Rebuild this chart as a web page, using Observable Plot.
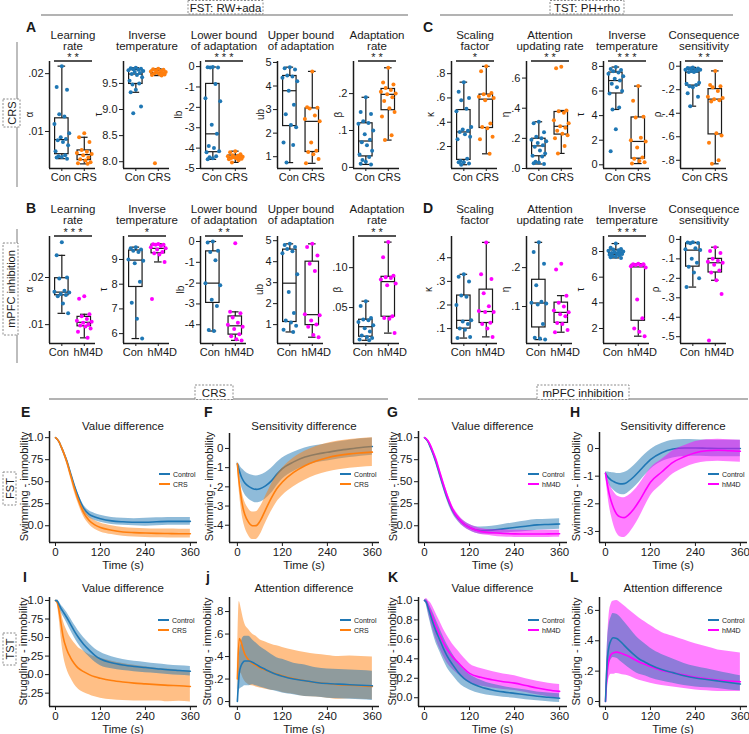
<!DOCTYPE html>
<html>
<head>
<meta charset="utf-8">
<title>Model parameters and latent dynamics</title>
<script src="https://cdn.jsdelivr.net/npm/d3@7"></script>
<script src="https://cdn.jsdelivr.net/npm/@observablehq/plot@0.6"></script>
<style>
  html, body { margin: 0; padding: 0; background: #fff; }
  #fig { position: relative; width: 749px; height: 734px; overflow: hidden; font-family: "Liberation Sans", Arial, sans-serif; }
  #fig > svg { position: absolute; }
</style>
</head>
<body>
<div id="fig"></div>
<script>
// ---------- groups & colours ----------
const crsGroups = ["Con", "CRS"];
const dreaddGroups = ["Con", "hM4D"];
const BLUE = "#1f77b4", ORANGE = "#ff7f0e", MAGENTA = "#ff00ff", INK = "#1a1a1a";
const FONT = '"Liberation Sans", Arial, sans-serif';

// ---------- A: FST, RW+ada, CRS ----------
const A_alpha_con = [0.0213, 0.0177, 0.0172, 0.0130, 0.0126, 0.0113, 0.0097, 0.0090, 0.0087, 0.0085, 0.0082, 0.0076, 0.0066, 0.0059, 0.0057, 0.0056, 0.0055, 0.0053];
const A_alpha_crs = [0.0097, 0.0090, 0.0082, 0.0068, 0.0065, 0.0063, 0.0061, 0.0059, 0.0055, 0.0052, 0.0050, 0.0047, 0.0045, 0.0044];
const A_tau_con = [9.80, 9.79, 9.78, 9.77, 9.76, 9.75, 9.74, 9.72, 9.70, 9.68, 9.66, 9.62, 9.55, 9.50, 9.48, 9.38, 9.33, 9.06, 8.93];
const A_tau_crs = [9.78, 9.77, 9.76, 9.75, 9.74, 9.73, 9.72, 9.71, 9.70, 9.69, 9.68, 9.67, 9.66, 9.65, 7.97];
const A_lb_con = [-0.02, -0.03, -0.04, -0.05, -0.85, -1.55, -1.7, -2.85, -3.3, -3.9, -4.0, -4.15, -4.2, -4.4, -4.45, -4.5, -4.55];
const A_lb_crs = [-4.15, -4.2, -4.3, -4.35, -4.38, -4.4, -4.42, -4.45, -4.46, -4.48, -4.5, -4.52, -4.55, -4.6, -4.7];
const A_ub_con = [4.8, 4.75, 4.7, 4.45, 4.4, 4.35, 4.2, 3.8, 3.2, 2.8, 2.35, 2.25, 1.6, 1.5, 0.75];
const A_ub_crs = [4.62, 3.1, 3.08, 3.05, 2.75, 2.6, 2.5, 1.6, 1.25, 1.2, 1.1, 0.9, 0.72];
const A_beta_con = [0.19, 0.15, 0.145, 0.125, 0.12, 0.118, 0.1, 0.09, 0.075, 0.068, 0.06, 0.045, 0.035, 0.028, 0.02, 0.015, 0.01, 0.008];
const A_beta_crs = [0.27, 0.23, 0.225, 0.215, 0.21, 0.205, 0.2, 0.198, 0.19, 0.18, 0.16, 0.15, 0.138, 0.087, 0.074];

// ---------- C: TST, PH+rho, CRS ----------
const C_kappa_con = [0.73, 0.65, 0.6, 0.58, 0.51, 0.49, 0.36, 0.34, 0.33, 0.32, 0.3, 0.28, 0.26, 0.1, 0.08, 0.07, 0.07, 0.06, 0.05];
const C_kappa_crs = [0.86, 0.82, 0.64, 0.63, 0.62, 0.61, 0.6, 0.58, 0.39, 0.36, 0.35, 0.28, 0.26, 0.14];
const C_eta_con = [0.31, 0.3, 0.24, 0.21, 0.2, 0.19, 0.18, 0.17, 0.155, 0.145, 0.12, 0.1, 0.085, 0.08, 0.045, 0.04, 0.035, 0.03];
const C_eta_crs = [0.675, 0.665, 0.385, 0.38, 0.37, 0.32, 0.3, 0.28, 0.27, 0.25, 0.23, 0.22, 0.2, 0.15, 0.1];
const C_tau_con = [7.95, 7.8, 7.7, 7.6, 7.5, 7.4, 7.2, 7.0, 6.85, 6.6, 6.3, 6.0, 5.8, 4.65, 4.5, 2.9, 1.1];
const C_tau_crs = [6.4, 5.2, 3.9, 3.85, 2.2, 2.0, 1.9, 1.4, 0.6, 0.5, 0.3, 0.2, 0.1];
const C_rho_con = [-0.01, -0.015, -0.02, -0.02, -0.03, -0.03, -0.03, -0.04, -0.04, -0.05, -0.05, -0.14, -0.15, -0.16, -0.17, -0.18, -0.23, -0.26, -0.34];
const C_rho_crs = [-0.04, -0.16, -0.17, -0.18, -0.21, -0.26, -0.27, -0.28, -0.29, -0.3, -0.57, -0.59, -0.65, -0.8, -0.83];

// ---------- B: FST, RW+ada, mPFC inhibition ----------
const B_alpha_con = [0.0275, 0.0247, 0.0200, 0.0198, 0.0172, 0.0170, 0.0168, 0.0165, 0.0163, 0.0160, 0.0145, 0.0124];
const B_alpha_hm4d = [0.0160, 0.0155, 0.0122, 0.0118, 0.0112, 0.0108, 0.0106, 0.0104, 0.0101, 0.0098, 0.0096, 0.0092, 0.0085, 0.0072];
const B_tau_con = [9.5, 9.45, 9.4, 9.35, 9.3, 9.0, 8.95, 8.85, 8.1, 7.25, 6.6, 5.8];
const B_tau_hm4d = [9.63, 9.62, 9.6, 9.6, 9.55, 9.5, 9.45, 9.4, 9.3, 9.25, 9.2, 8.9, 7.4];
const B_lb_con = [0, -0.05, -0.45, -0.5, -0.9, -2.0, -2.1, -2.8, -3.1, -4.25, -4.3];
const B_lb_hm4d = [-0.08, -3.38, -3.45, -3.65, -3.9, -4.0, -4.1, -4.2, -4.45, -4.55, -4.7, -4.75];
const B_ub_con = [4.85, 4.8, 4.7, 4.6, 4.5, 4.4, 3.4, 2.55, 1.55, 1.2, 1.1, 0.95, 0.75, 0.65];
const B_ub_hm4d = [4.85, 4.7, 4.3, 3.9, 3.55, 1.5, 1.45, 1.2, 1.0, 0.9, 0.5, 0.4];
const B_beta_con = [0.058, 0.052, 0.037, 0.035, 0.034, 0.032, 0.028, 0.024, 0.02, 0.015, 0.013, 0.012, 0.01, 0.009];
const B_beta_hm4d = [0.132, 0.113, 0.09, 0.088, 0.087, 0.085, 0.08, 0.078, 0.039, 0.037, 0.036, 0.018];

// ---------- D: TST, PH+rho, mPFC inhibition ----------
const D_kappa_con = [0.33, 0.32, 0.3, 0.24, 0.235, 0.2, 0.135, 0.13, 0.12, 0.1, 0.095, 0.065, 0.06];
const D_kappa_hm4d = [0.465, 0.33, 0.31, 0.25, 0.195, 0.175, 0.17, 0.17, 0.125, 0.12, 0.1, 0.065];
const D_eta_con = [0.265, 0.24, 0.21, 0.155, 0.112, 0.11, 0.108, 0.105, 0.055, 0.02, 0.018, 0.015];
const D_eta_hm4d = [0.21, 0.195, 0.128, 0.11, 0.1, 0.09, 0.085, 0.08, 0.075, 0.058, 0.055, 0.04, 0.034];
const D_tau_con = [8.62, 8.3, 8.2, 8.15, 8.1, 8.05, 8.0, 7.95, 7.9, 7.88, 7.85, 7.8, 7.75, 7.7, 7.65, 7.6, 7.55, 7.5];
const D_tau_hm4d = [7.05, 7.0, 7.0, 6.95, 6.9, 6.85, 6.75, 4.25, 2.8, 2.0, 1.75, 1.4];
const D_rho_con = [-0.015, -0.016, -0.018, -0.02, -0.045, -0.05, -0.055, -0.1, -0.12, -0.14, -0.17, -0.2, -0.245];
const D_rho_hm4d = [-0.04, -0.06, -0.07, -0.1, -0.11, -0.115, -0.12, -0.13, -0.16, -0.17, -0.21, -0.28, -0.52];

// ---------- axis ticks for the parameter panels ----------
const ticksSmallRate = [0.01, 0.02], labelsSmallRate = [".01", ".02"];
const ticksTauA = [8, 8.5, 9, 9.5], labelsTauA = ["8.0", "8.5", "9.0", "9.5"];
const ticksLbA = [-5, -4, -3, -2, -1, 0], labelsLbA = ["-5", "-4", "-3", "-2", "-1", "0"];
const ticksUb = [1, 2, 3, 4, 5], labelsUb = ["1", "2", "3", "4", "5"];
const ticksBetaA = [0, 0.1, 0.2], labelsBetaA = ["0", ".1", ".2"];
const ticksKappaC = [0.2, 0.4, 0.6, 0.8], labelsKappaC = [".2", ".4", ".6", ".8"];
const ticksEtaC = [0, 0.2, 0.4, 0.6], labelsEtaC = [".0", ".2", ".4", ".6"];
const ticksTauC = [0, 2, 4, 6, 8], labelsTauC = ["0", "2", "4", "6", "8"];
const ticksRhoC = [-0.8, -0.6, -0.4, -0.2, 0], labelsRhoC = ["-.8", "-.6", "-.4", "-.2", "0"];
const ticksTauB = [6, 7, 8, 9], labelsTauB = ["6", "7", "8", "9"];
const ticksLbB = [-4, -3, -2, -1, 0], labelsLbB = ["-4", "-3", "-2", "-1", "0"];
const ticksBetaB = [0.05, 0.1], labelsBetaB = [".05", ".10"];
const ticksKappaD = [0.1, 0.2, 0.3, 0.4], labelsKappaD = [".1", ".2", ".3", ".4"];
const ticksEtaD = [0.1, 0.2], labelsEtaD = [".1", ".2"];
const ticksTauD = [2, 4, 6, 8], labelsTauD = ["2", "4", "6", "8"];
const ticksRhoD = [-0.5, -0.4, -0.3, -0.2, -0.1, 0], labelsRhoD = ["-.5", "-.4", "-.3", "-.2", "-.1", "0"];

// ---------- E–L: group-mean trajectories (mean, band half-width) ----------
const timeGrid = [0, 5, 10, 15, 20, 30, 40, 50, 60, 75, 90, 105, 120, 150, 180, 210, 240, 270, 300, 330, 360];

const E_ctrl_mean = [1.0, 0.98, 0.95, 0.9, 0.85, 0.74, 0.6, 0.46, 0.34, 0.2, 0.13, 0.1, 0.08, 0.055, 0.045, 0.04, 0.04, 0.045, 0.05, 0.05, 0.05];
const E_ctrl_half = [0, 0.01, 0.015, 0.02, 0.02, 0.025, 0.03, 0.03, 0.035, 0.035, 0.04, 0.04, 0.04, 0.04, 0.04, 0.04, 0.045, 0.045, 0.045, 0.045, 0.045];
const E_crs_mean = [1.0, 0.98, 0.95, 0.9, 0.85, 0.73, 0.58, 0.43, 0.3, 0.15, 0.06, 0.01, -0.02, -0.05, -0.07, -0.078, -0.083, -0.086, -0.088, -0.09, -0.09];
const E_crs_half = [0, 0.01, 0.015, 0.02, 0.025, 0.03, 0.035, 0.04, 0.04, 0.045, 0.045, 0.05, 0.05, 0.05, 0.05, 0.05, 0.05, 0.05, 0.05, 0.05, 0.05];

const F_ctrl_mean = [-0.8, -1.15, -1.45, -1.65, -1.8, -1.98, -2.08, -2.13, -2.1, -1.95, -1.7, -1.35, -1.05, -0.7, -0.45, -0.3, -0.2, -0.1, -0.02, 0.05, 0.1];
const F_ctrl_half = [0.1, 0.3, 0.45, 0.55, 0.6, 0.65, 0.68, 0.7, 0.7, 0.68, 0.65, 0.6, 0.55, 0.5, 0.48, 0.45, 0.45, 0.45, 0.45, 0.45, 0.45];
const F_crs_mean = [-0.8, -1.8, -2.55, -3.1, -3.45, -3.85, -4.03, -4.02, -3.8, -3.2, -2.6, -2.1, -1.75, -1.25, -0.9, -0.65, -0.48, -0.36, -0.28, -0.23, -0.19];
const F_crs_half = [0.15, 0.4, 0.55, 0.62, 0.66, 0.7, 0.72, 0.72, 0.72, 0.7, 0.7, 0.7, 0.72, 0.75, 0.75, 0.75, 0.75, 0.75, 0.75, 0.75, 0.75];

const G_ctrl_mean = [1.0, 0.98, 0.95, 0.9, 0.85, 0.73, 0.59, 0.45, 0.32, 0.17, 0.08, 0.02, -0.02, -0.055, -0.05, -0.035, -0.02, -0.005, 0.01, 0.015, 0.02];
const G_ctrl_half = [0, 0.01, 0.015, 0.02, 0.02, 0.025, 0.03, 0.03, 0.03, 0.035, 0.035, 0.035, 0.035, 0.04, 0.045, 0.05, 0.055, 0.06, 0.06, 0.06, 0.06];
const G_hm4d_mean = [1.0, 0.985, 0.96, 0.92, 0.87, 0.76, 0.62, 0.48, 0.35, 0.19, 0.09, 0.02, -0.02, -0.065, -0.08, -0.088, -0.092, -0.094, -0.094, -0.092, -0.09];
const G_hm4d_half = [0, 0.01, 0.015, 0.02, 0.025, 0.03, 0.03, 0.035, 0.035, 0.035, 0.035, 0.035, 0.035, 0.035, 0.035, 0.04, 0.04, 0.04, 0.04, 0.04, 0.04];

const H_ctrl_mean = [-0.9, -1.0, -1.08, -1.14, -1.18, -1.25, -1.28, -1.27, -1.2, -1.03, -0.82, -0.6, -0.4, -0.15, -0.02, 0.02, 0.02, 0.01, 0.0, 0.0, 0.0];
const H_ctrl_half = [0.05, 0.15, 0.22, 0.27, 0.3, 0.35, 0.38, 0.4, 0.4, 0.4, 0.4, 0.38, 0.36, 0.33, 0.32, 0.31, 0.3, 0.3, 0.3, 0.3, 0.3];
const H_hm4d_mean = [-0.9, -1.3, -1.65, -1.9, -2.1, -2.38, -2.48, -2.5, -2.42, -2.2, -1.9, -1.55, -1.22, -0.85, -0.5, -0.3, -0.15, -0.08, -0.06, -0.08, -0.1];
const H_hm4d_half = [0.05, 0.25, 0.4, 0.5, 0.58, 0.68, 0.72, 0.72, 0.7, 0.65, 0.6, 0.55, 0.5, 0.45, 0.42, 0.4, 0.4, 0.4, 0.4, 0.4, 0.4];

const I_ctrl_mean = [1.0, 0.99, 0.94, 0.89, 0.85, 0.77, 0.68, 0.59, 0.51, 0.41, 0.33, 0.26, 0.21, 0.16, 0.13, 0.11, 0.095, 0.08, 0.065, 0.055, 0.045];
const I_ctrl_half = [0, 0.02, 0.04, 0.05, 0.06, 0.07, 0.08, 0.085, 0.09, 0.09, 0.09, 0.09, 0.09, 0.08, 0.075, 0.07, 0.07, 0.065, 0.065, 0.065, 0.065];
const I_crs_mean = [1.0, 0.97, 0.85, 0.68, 0.52, 0.34, 0.23, 0.15, 0.09, 0.04, 0.0, -0.03, -0.05, -0.08, -0.1, -0.115, -0.125, -0.135, -0.145, -0.15, -0.16];
const I_crs_half = [0, 0.03, 0.1, 0.18, 0.22, 0.26, 0.27, 0.28, 0.28, 0.28, 0.27, 0.27, 0.27, 0.26, 0.25, 0.24, 0.23, 0.22, 0.22, 0.21, 0.21];

const J_ctrl_mean = [0, 0.25, 0.32, 0.35, 0.36, 0.36, 0.35, 0.33, 0.31, 0.285, 0.26, 0.24, 0.225, 0.2, 0.185, 0.17, 0.16, 0.155, 0.15, 0.145, 0.14];
const J_ctrl_half = [0, 0.15, 0.2, 0.22, 0.22, 0.22, 0.2, 0.19, 0.18, 0.17, 0.16, 0.15, 0.15, 0.14, 0.14, 0.13, 0.13, 0.13, 0.13, 0.13, 0.13];
const J_crs_mean = [0.2, 0.56, 0.53, 0.47, 0.42, 0.37, 0.34, 0.32, 0.3, 0.28, 0.26, 0.245, 0.23, 0.205, 0.185, 0.17, 0.16, 0.15, 0.145, 0.14, 0.135];
const J_crs_up = [0.1, 0.33, 0.3, 0.28, 0.27, 0.27, 0.26, 0.26, 0.25, 0.25, 0.25, 0.25, 0.25, 0.25, 0.25, 0.25, 0.25, 0.25, 0.26, 0.26, 0.26];
const J_crs_down = [0.1, 0.3, 0.28, 0.26, 0.24, 0.22, 0.2, 0.19, 0.18, 0.17, 0.16, 0.15, 0.15, 0.14, 0.14, 0.13, 0.13, 0.13, 0.12, 0.12, 0.12];

const K_ctrl_mean = [1.0, 0.98, 0.92, 0.86, 0.8, 0.69, 0.6, 0.51, 0.43, 0.34, 0.26, 0.2, 0.16, 0.11, 0.08, 0.06, 0.045, 0.03, 0.015, 0.005, -0.005];
const K_ctrl_half = [0, 0.03, 0.06, 0.08, 0.1, 0.12, 0.12, 0.12, 0.12, 0.11, 0.1, 0.09, 0.08, 0.07, 0.06, 0.055, 0.05, 0.05, 0.045, 0.045, 0.045];
const K_hm4d_mean = [1.0, 0.99, 0.94, 0.89, 0.84, 0.74, 0.65, 0.57, 0.5, 0.42, 0.36, 0.3, 0.25, 0.21, 0.185, 0.165, 0.15, 0.125, 0.1, 0.08, 0.065];
const K_hm4d_half = [0, 0.03, 0.06, 0.09, 0.11, 0.13, 0.14, 0.14, 0.14, 0.13, 0.12, 0.11, 0.1, 0.09, 0.085, 0.08, 0.075, 0.07, 0.07, 0.07, 0.07];

const L_ctrl_mean = [0, 0.28, 0.37, 0.405, 0.42, 0.415, 0.395, 0.37, 0.345, 0.31, 0.28, 0.26, 0.24, 0.21, 0.19, 0.17, 0.155, 0.145, 0.135, 0.125, 0.115];
const L_ctrl_up = [0, 0.1, 0.14, 0.15, 0.16, 0.16, 0.16, 0.155, 0.15, 0.14, 0.13, 0.12, 0.11, 0.1, 0.09, 0.08, 0.075, 0.07, 0.065, 0.06, 0.055];
const L_ctrl_down = [0, 0.1, 0.12, 0.13, 0.13, 0.13, 0.13, 0.125, 0.12, 0.11, 0.1, 0.09, 0.085, 0.075, 0.07, 0.065, 0.06, 0.055, 0.05, 0.05, 0.045];
const L_hm4d_mean = [0, 0.2, 0.28, 0.31, 0.32, 0.325, 0.32, 0.31, 0.3, 0.28, 0.26, 0.245, 0.23, 0.205, 0.19, 0.175, 0.16, 0.15, 0.14, 0.135, 0.13];
const L_hm4d_up = [0, 0.18, 0.3, 0.33, 0.34, 0.34, 0.33, 0.32, 0.31, 0.3, 0.29, 0.28, 0.27, 0.25, 0.24, 0.23, 0.22, 0.21, 0.2, 0.195, 0.19];
const L_hm4d_down = [0, 0.1, 0.12, 0.13, 0.14, 0.14, 0.14, 0.135, 0.13, 0.125, 0.12, 0.115, 0.11, 0.1, 0.095, 0.09, 0.085, 0.08, 0.075, 0.07, 0.065];

// ---------- tick sets for the trajectory panels ----------
const ticksValueFST = [0, 0.25, 0.5, 0.75, 1], labelsValueFST = ["0.0", ".25", ".50", ".75", "1.0"];
const ticksSensCRS = [-4, -3, -2, -1, 0], labelsSensCRS = ["-4", "-3", "-2", "-1", "0"];
const ticksSensDREADD = [-3, -2, -1, 0], labelsSensDREADD = ["-3", "-2", "-1", "0"];
const ticksValueCRS_TST = [-0.25, 0, 0.25, 0.5, 0.75, 1], labelsValueCRS_TST = [".25", "0.0", ".25", ".50", ".75", "1.0"];
const ticksAttnCRS = [0, 0.2, 0.4, 0.6, 0.8], labelsAttnCRS = ["0", ".2", ".4", ".6", ".8"];
const ticksValueDREADD_TST = [0, 0.2, 0.4, 0.6, 0.8, 1], labelsValueDREADD_TST = ["0.0", "0.2", "0.4", "0.6", "0.8", "1.0"];
const ticksAttnDREADD = [0, 0.2, 0.4, 0.6], labelsAttnDREADD = ["0", ".2", ".4", ".6"];
const timeTicks = [0, 120, 240, 360];

// ====================================================================
const fig = document.getElementById("fig");
function place(svg, left, top) {
  svg.style.left = left + "px";
  svg.style.top = top + "px";
  fig.appendChild(svg);
}

// ---------- box-and-strip panels ----------
const BOX_X = [0.45, 2.5];
const JITTER = [0, -0.7, 0.7, -0.35, 0.35, -1, 1, -0.15, 0.55, -0.55, 0.15, 0.85, -0.85, 0.45, -0.45];

function boxStats(values) {
  const s = d3.sort(values);
  const q1 = d3.quantileSorted(s, 0.25), med = d3.quantileSorted(s, 0.5), q3 = d3.quantileSorted(s, 0.75);
  const reach = 1.5 * (q3 - q1) + 1e-9;
  return {
    q1, med, q3,
    lo: d3.min(s, d => (d >= q1 - reach ? d : NaN)),
    hi: d3.max(s, d => (d <= q3 + reach ? d : NaN))
  };
}

function drawBox(p) {
  const ml = 34, mr = 8, mt = 6, mb = 22, pw = 46, ph = p.bottom - p.top;
  const stats = [p.con, p.trt].map((v, i) => ({g: i + 1, ...boxStats(v)}));
  const pts = (v, g) => v.map((y, i) => ({x: g + 0.33 * JITTER[i % JITTER.length], y}));
  const tickLabel = new Map(p.ticks.map((t, i) => [t, p.labels[i]]));
  const ink = {stroke: INK, strokeWidth: 1.2};
  // group names sit under their ticks, nudged apart so longer names do not touch
  const spread = p.groups[1].length > 3 ? [-3, 4] : [-1, 1];
  const groupLabel = (g, dx) => Plot.text([p.groups[g - 1]], {x: () => g, text: d => d, frameAnchor: "bottom", dy: 12.5, dx, fill: INK});
  const svg = Plot.plot({
    width: ml + pw + mr, height: mt + ph + mb,
    marginLeft: ml, marginRight: mr, marginTop: mt, marginBottom: mb,
    style: {background: "transparent", fontSize: "11px", fontFamily: FONT, color: INK, overflow: "visible"},
    x: {domain: BOX_X, ticks: [1, 2], tickFormat: () => "", tickSize: 3, label: null},
    y: {domain: p.domain, ticks: p.ticks, tickFormat: d => tickLabel.get(d), tickSize: 4, tickPadding: 2, label: null},
    marks: [
      Plot.ruleX(stats, {x: "g", y1: "q3", y2: "hi", ...ink}),
      Plot.ruleX(stats, {x: "g", y1: "lo", y2: "q1", ...ink}),
      Plot.ruleY(stats, {y: "hi", x1: d => d.g - 0.17, x2: d => d.g + 0.17, ...ink}),
      Plot.ruleY(stats, {y: "lo", x1: d => d.g - 0.17, x2: d => d.g + 0.17, ...ink}),
      Plot.rect(stats, {x1: d => d.g - 0.3, x2: d => d.g + 0.3, y1: "q1", y2: "q3", fill: "white", ...ink}),
      Plot.ruleY(stats, {y: "med", x1: d => d.g - 0.3, x2: d => d.g + 0.3, ...ink}),
      Plot.dot(pts(p.con, 1), {x: "x", y: "y", r: 2, fill: p.colors[0]}),
      Plot.dot(pts(p.trt, 2), {x: "x", y: "y", r: 2, fill: p.colors[1]}),
      Plot.ruleX([BOX_X[0]], {stroke: INK, strokeWidth: 1.5}),
      Plot.ruleY([p.domain[0]], {stroke: INK, strokeWidth: 1.5}),
      groupLabel(1, spread[0]),
      groupLabel(2, spread[1])
    ]
  });
  place(svg, p.axisX - ml, p.top - mt);
}

const rowA = {top: 61, bottom: 168}, rowB = {top: 236, bottom: 343};
const boxPanels = [
  {...rowA, axisX: 49,  groups: crsGroups, colors: [BLUE, ORANGE], con: A_alpha_con, trt: A_alpha_crs, domain: [0.0036, 0.0221], ticks: ticksSmallRate, labels: labelsSmallRate, title: ["Learning", "rate"], sym: "α", symOff: 20, stars: "**"},
  {...rowA, axisX: 123, groups: crsGroups, colors: [BLUE, ORANGE], con: A_tau_con, trt: A_tau_crs, domain: [7.87, 9.92], ticks: ticksTauA, labels: labelsTauA, title: ["Inverse", "temperature"], sym: "τ", symOff: 25, stars: ""},
  {...rowA, axisX: 200, groups: crsGroups, colors: [BLUE, ORANGE], con: A_lb_con, trt: A_lb_crs, domain: [-5, 0.25], ticks: ticksLbA, labels: labelsLbA, title: ["Lower bound", "of adaptation"], sym: "lb", symOff: 22, stars: "***"},
  {...rowA, axisX: 277, groups: crsGroups, colors: [BLUE, ORANGE], con: A_ub_con, trt: A_ub_crs, domain: [0.5, 5.04], ticks: ticksUb, labels: labelsUb, title: ["Upper bound", "of adaptation"], sym: "ub", symOff: 17, stars: ""},
  {...rowA, axisX: 353, groups: crsGroups, colors: [BLUE, ORANGE], con: A_beta_con, trt: A_beta_crs, domain: [-0.003, 0.287], ticks: ticksBetaA, labels: labelsBetaA, title: ["Adaptation", "rate"], sym: "β", symOff: 15, stars: "**"},
  {...rowA, axisX: 451, groups: crsGroups, colors: [BLUE, ORANGE], con: C_kappa_con, trt: C_kappa_crs, domain: [0.019, 0.9], ticks: ticksKappaC, labels: labelsKappaC, title: ["Scaling", "factor"], sym: "κ", symOff: 21, stars: "*"},
  {...rowA, axisX: 526, groups: crsGroups, colors: [BLUE, ORANGE], con: C_eta_con, trt: C_eta_crs, domain: [0, 0.71], ticks: ticksEtaC, labels: labelsEtaC, title: ["Attention", "updating rate"], sym: "η", symOff: 21, stars: "**"},
  {...rowA, axisX: 603, groups: crsGroups, colors: [BLUE, ORANGE], con: C_tau_con, trt: C_tau_crs, domain: [-0.3, 8.4], ticks: ticksTauC, labels: labelsTauC, title: ["Inverse", "temperature"], sym: "τ", symOff: 23, stars: "***"},
  {...rowA, axisX: 680, groups: crsGroups, colors: [BLUE, ORANGE], con: C_rho_con, trt: C_rho_crs, domain: [-0.87, 0.04], ticks: ticksRhoC, labels: labelsRhoC, title: ["Consequence", "sensitivity"], sym: "ρ", symOff: 23, stars: "**"},
  {...rowB, axisX: 49,  groups: dreaddGroups, colors: [BLUE, MAGENTA], con: B_alpha_con, trt: B_alpha_hm4d, domain: [0.006, 0.0287], ticks: ticksSmallRate, labels: labelsSmallRate, title: ["Learning", "rate"], sym: "α", symOff: 20, stars: "***"},
  {...rowB, axisX: 123, groups: dreaddGroups, colors: [BLUE, MAGENTA], con: B_tau_con, trt: B_tau_hm4d, domain: [5.6, 9.93], ticks: ticksTauB, labels: labelsTauB, title: ["Inverse", "temperature"], sym: "τ", symOff: 20, stars: "*"},
  {...rowB, axisX: 200, groups: dreaddGroups, colors: [BLUE, MAGENTA], con: B_lb_con, trt: B_lb_hm4d, domain: [-4.9, 0.24], ticks: ticksLbB, labels: labelsLbB, title: ["Lower bound", "of adaptation"], sym: "lb", symOff: 20, stars: "**"},
  {...rowB, axisX: 277, groups: dreaddGroups, colors: [BLUE, MAGENTA], con: B_ub_con, trt: B_ub_hm4d, domain: [0.1, 5.2], ticks: ticksUb, labels: labelsUb, title: ["Upper bound", "of adaptation"], sym: "ub", symOff: 18, stars: ""},
  {...rowB, axisX: 353, groups: dreaddGroups, colors: [BLUE, MAGENTA], con: B_beta_con, trt: B_beta_hm4d, domain: [0.005, 0.139], ticks: ticksBetaB, labels: labelsBetaB, title: ["Adaptation", "rate"], sym: "β", symOff: 16, stars: "**"},
  {...rowB, axisX: 451, groups: dreaddGroups, colors: [BLUE, MAGENTA], con: D_kappa_con, trt: D_kappa_hm4d, domain: [0.037, 0.49], ticks: ticksKappaD, labels: labelsKappaD, title: ["Scaling", "factor"], sym: "κ", symOff: 23, stars: ""},
  {...rowB, axisX: 526, groups: dreaddGroups, colors: [BLUE, MAGENTA], con: D_eta_con, trt: D_eta_hm4d, domain: [0.005, 0.28], ticks: ticksEtaD, labels: labelsEtaD, title: ["Attention", "updating rate"], sym: "η", symOff: 21, stars: ""},
  {...rowB, axisX: 603, groups: dreaddGroups, colors: [BLUE, MAGENTA], con: D_tau_con, trt: D_tau_hm4d, domain: [0.83, 9.17], ticks: ticksTauD, labels: labelsTauD, title: ["Inverse", "temperature"], sym: "τ", symOff: 23, stars: "***"},
  {...rowB, axisX: 680, groups: dreaddGroups, colors: [BLUE, MAGENTA], con: D_rho_con, trt: D_rho_hm4d, domain: [-0.535, 0.015], ticks: ticksRhoD, labels: labelsRhoD, title: ["Consequence", "sensitivity"], sym: "ρ", symOff: 25, stars: ""}
];
boxPanels.forEach(drawBox);

// ---------- trajectory panels ----------
function drawTrajectory(p) {
  const ml = 40, mr = 2, mt = 4, mb = 30, pw = p.right - p.axisX, ph = p.bottom - p.top;
  const tickLabel = new Map(p.yTicks.map((t, i) => [t, p.yLabels[i]]));
  const tracks = p.series.map(s => ({
    color: s.color,
    rows: timeGrid.map((t, i) => ({t, m: s.mean[i], lo: s.mean[i] - (s.down || s.up)[i], hi: s.mean[i] + s.up[i]}))
  }));
  const band = s => Plot.areaY(s.rows, {x: "t", y1: "lo", y2: "hi", fill: s.color, fillOpacity: 0.5, curve: "monotone-x"});
  const line = s => Plot.line(s.rows, {x: "t", y: "m", stroke: s.color, strokeWidth: 1.6, curve: "monotone-x"});
  const layers = p.interleave
    ? tracks.flatMap(s => [band(s), line(s)])
    : [...tracks.map(band), ...tracks.map(line)];
  const svg = Plot.plot({
    width: ml + pw + mr, height: mt + ph + mb,
    marginLeft: ml, marginRight: mr, marginTop: mt, marginBottom: mb,
    style: {background: "transparent", fontSize: "11.5px", fontFamily: FONT, color: INK, overflow: "visible"},
    x: {domain: p.xDomain, ticks: timeTicks, tickSize: 4, tickPadding: 1, label: null},
    y: {domain: p.yDomain, ticks: p.yTicks, tickFormat: d => tickLabel.get(d), tickSize: 4, tickPadding: 2, label: null},
    marks: [
      ...layers,
      Plot.ruleX([p.xDomain[0]], {stroke: INK, strokeWidth: 1.5}),
      Plot.ruleY([p.yDomain[0]], {stroke: INK, strokeWidth: 1.5})
    ]
  });
  place(svg, p.axisX - ml, p.top - mt);
}

const rowE = {top: 431, bottom: 542}, rowI = {top: 597, bottom: 706};
const trajPanels = [
  {...rowE, axisX: 49, right: 197, xDomain: [-16, 379], yDomain: [-0.19, 1.07], yTicks: ticksValueFST, yLabels: labelsValueFST, interleave: true,
   series: [{mean: E_ctrl_mean, up: E_ctrl_half, color: BLUE}, {mean: E_crs_mean, up: E_crs_half, color: ORANGE}]},
  {...rowE, top: 433, axisX: 229, right: 379, xDomain: [-21, 379], yDomain: [-4.9, 0.78], yTicks: ticksSensCRS, yLabels: labelsSensCRS, interleave: true,
   series: [{mean: F_ctrl_mean, up: F_ctrl_half, color: BLUE}, {mean: F_crs_mean, up: F_crs_half, color: ORANGE}]},
  {...rowE, axisX: 418, right: 567, xDomain: [-16, 381], yDomain: [-0.19, 1.07], yTicks: ticksValueFST, yLabels: labelsValueFST, interleave: true,
   series: [{mean: G_ctrl_mean, up: G_ctrl_half, color: BLUE}, {mean: G_hm4d_mean, up: G_hm4d_half, color: MAGENTA}]},
  {...rowE, top: 432, axisX: 599, right: 747, xDomain: [-16, 379], yDomain: [-3.4, 0.58], yTicks: ticksSensDREADD, yLabels: labelsSensDREADD, interleave: true,
   series: [{mean: H_ctrl_mean, up: H_ctrl_half, color: BLUE}, {mean: H_hm4d_mean, up: H_hm4d_half, color: MAGENTA}]},
  {...rowI, axisX: 49, right: 197, xDomain: [-16, 379], yDomain: [-0.43, 1.04], yTicks: ticksValueCRS_TST, yLabels: labelsValueCRS_TST, interleave: false,
   series: [{mean: I_crs_mean, up: I_crs_half, color: ORANGE}, {mean: I_ctrl_mean, up: I_ctrl_half, color: BLUE}]},
  {...rowI, axisX: 229, right: 379, xDomain: [-21, 379], yDomain: [-0.044, 0.925], yTicks: ticksAttnCRS, yLabels: labelsAttnCRS, interleave: false,
   series: [{mean: J_crs_mean, up: J_crs_up, down: J_crs_down, color: ORANGE}, {mean: J_ctrl_mean, up: J_ctrl_half, color: BLUE}]},
  {...rowI, axisX: 418, right: 567, xDomain: [-16, 381], yDomain: [-0.09, 1.03], yTicks: ticksValueDREADD_TST, yLabels: labelsValueDREADD_TST, interleave: false,
   series: [{mean: K_hm4d_mean, up: K_hm4d_half, color: MAGENTA}, {mean: K_ctrl_mean, up: K_ctrl_half, color: BLUE}]},
  {...rowI, axisX: 599, right: 747, xDomain: [-16, 379], yDomain: [-0.033, 0.685], yTicks: ticksAttnDREADD, yLabels: labelsAttnDREADD, interleave: false,
   series: [{mean: L_hm4d_mean, up: L_hm4d_up, down: L_hm4d_down, color: MAGENTA}, {mean: L_ctrl_mean, up: L_ctrl_up, down: L_ctrl_down, color: BLUE}]}
];
trajPanels.forEach(drawTrajectory);

// ====================================================================
// Annotation layer: section headers, panel letters, titles, labels, legends
const ov = d3.select(fig).append("svg")
  .attr("width", 749).attr("height", 734)
  .style("left", "0px").style("top", "0px").style("pointer-events", "none")
  .attr("font-family", FONT).attr("fill", INK);

function text(x, y, s, size, opt = {}) {
  const t = ov.append("text").attr("x", x).attr("y", y).text(s)
    .attr("font-size", size).attr("text-anchor", opt.anchor || "middle");
  if (opt.weight) t.attr("font-weight", opt.weight);
  if (opt.spacing) t.attr("letter-spacing", opt.spacing);
  if (opt.rotate) t.attr("dominant-baseline", "central").attr("transform", `rotate(-90 ${x} ${y})`);
  return t;
}
function rule(x1, y1, x2, y2, color, w) {
  ov.append("line").attr("x1", x1).attr("y1", y1).attr("x2", x2).attr("y2", y2)
    .attr("stroke", color).attr("stroke-width", w);
}
function dashedBox(x, y, w, h) {
  ov.append("rect").attr("x", x).attr("y", y).attr("width", w).attr("height", h)
    .attr("fill", "white").attr("stroke", "#8c8c8c").attr("stroke-width", 1).attr("stroke-dasharray", "2,1.5");
}
const GREY = "#9a9a9a";

// section headers
rule(41, 15, 408, 15, GREY, 1.3); dashedBox(188, 0.5, 75, 13.5); text(225.5, 11.5, "FST: RW+ada", 11.5);
rule(440, 15, 733, 15, GREY, 1.3); dashedBox(550, 0.5, 74, 13.5); text(587, 11.5, "TST: PH+rho", 11.5);
rule(49, 399, 388, 399, GREY, 1.3); dashedBox(195, 385, 38, 14.5); text(214, 396.5, "CRS", 11.5);
rule(418, 399, 748, 399, GREY, 1.3); dashedBox(537, 385, 92, 14.5); text(583, 396.5, "mPFC inhibition", 11.5);

// row labels
rule(17, 42, 17, 187, GREY, 1.3); dashedBox(3, 99, 17, 28); text(11.8, 113, "CRS", 11, {rotate: true});
rule(17, 229, 17, 363, GREY, 1.3); dashedBox(3, 243, 15, 92); text(10.8, 289, "mPFC inhibition", 11, {rotate: true});
dashedBox(3, 472, 13, 33); text(9.8, 488.5, "FST", 11, {rotate: true});
dashedBox(3, 633, 13, 32); text(9.8, 649, "TST", 11, {rotate: true});

// panel letters
[["A", 26, 32], ["C", 423, 32], ["B", 26, 213], ["D", 423, 213],
 ["E", 21, 417], ["F", 204, 417], ["G", 387, 417], ["H", 570, 417],
 ["I", 23, 582], ["j", 206, 582], ["K", 388, 582], ["L", 570, 582]]
  .forEach(([s, x, y]) => text(x, y, s, 14, {anchor: "start", weight: "bold"}));

// parameter panel titles, significance bars and axis symbols
boxPanels.forEach(p => {
  const cx = p.axisX + 24;
  const titleY = p.top === rowA.top ? 38.5 : 212.5;
  text(cx, titleY, p.title[0], 11.5);
  text(cx, titleY + 11, p.title[1], 11.5);
  if (p.stars) {
    rule(p.axisX + 5, p.top, p.axisX + 43, p.top, INK, 1.3);
    text(cx + 1.5, p.top - 0.5, p.stars, 11, {spacing: 3});
  }
  text(p.axisX - p.symOff, (p.top + p.bottom) / 2, p.sym, 10, {rotate: true});
});

// trajectory panel titles, axis labels and legends
const trajText = [
  {title: "Value difference", ylab: "Swimming - immobility", labX: 24, legendX: 159, groups: ["Control", "CRS"], colors: [BLUE, ORANGE]},
  {title: "Sensitivity difference", ylab: "Swimming - immobility", labX: 209, legendX: 340, groups: ["Control", "CRS"], colors: [BLUE, ORANGE]},
  {title: "Value difference", ylab: "Swimming - immobility", labX: 393, legendX: 528, groups: ["Control", "hM4D"], colors: [BLUE, MAGENTA]},
  {title: "Sensitivity difference", ylab: "Swimming - immobility", labX: 576, legendX: 708, groups: ["Control", "hM4D"], colors: [BLUE, MAGENTA]},
  {title: "Value difference", ylab: "Struggling - immobility", labX: 23, legendX: 158, groups: ["Control", "CRS"], colors: [BLUE, ORANGE]},
  {title: "Attention difference", ylab: "Struggling - immobility", labX: 207, legendX: 340, groups: ["Control", "CRS"], colors: [BLUE, ORANGE]},
  {title: "Value difference", ylab: "Struggling - immobility", labX: 392, legendX: 528, groups: ["Control", "hM4D"], colors: [BLUE, MAGENTA]},
  {title: "Attention difference", ylab: "Struggling - immobility", labX: 576, legendX: 708, groups: ["Control", "hM4D"], colors: [BLUE, MAGENTA]}
];
trajPanels.forEach((p, i) => {
  const a = trajText[i];
  const topRow = p.bottom === rowE.bottom;
  const cx = (p.axisX + p.right) / 2;
  text(cx, topRow ? 430 : 592, a.title, 11.5);
  text(cx, topRow ? 569 : 733, "Time (s)", 11.5);
  text(a.labX, topRow ? 486.5 : 651.5, a.ylab, 11, {rotate: true});
  const ly = topRow ? 474 : 620;
  a.groups.forEach((g, k) => {
    rule(a.legendX, ly + k * 10, a.legendX + 11, ly + k * 10, a.colors[k], 2);
    text(a.legendX + 14, ly + k * 10 + 2.5, g, 7, {anchor: "start"});
  });
});
</script>
</body>
</html>
